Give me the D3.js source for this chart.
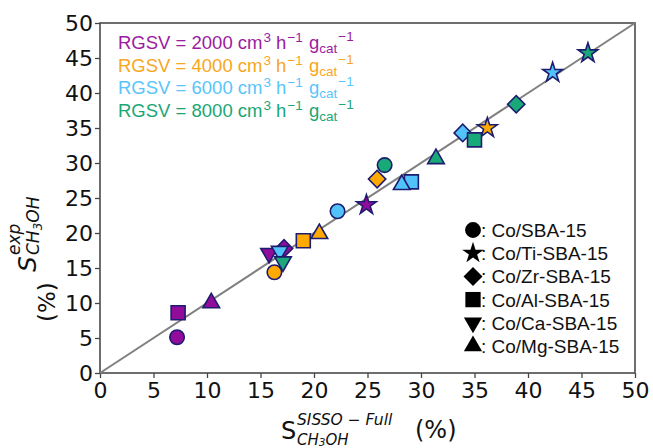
<!DOCTYPE html>
<html>
<head>
<meta charset="utf-8">
<script src="https://cdn.jsdelivr.net/npm/d3@7"></script>
<style>
  body { margin: 0; background: #fff; }
  svg { display: block; }
</style>
</head>
<body>
<script>
// RGSV series (cm3 h-1 gcat-1)
const rgsv = [2000, 4000, 6000, 8000];
const catalysts = ["Co/SBA-15", "Co/Ti-SBA-15", "Co/Zr-SBA-15", "Co/Al-SBA-15", "Co/Ca-SBA-15", "Co/Mg-SBA-15"];
const ticks = [0, 5, 10, 15, 20, 25, 30, 35, 40, 45, 50];

// one entry per point: catalyst index, rgsv index, predicted (SISSO-Full), experimental
const pCat  = [0, 0, 0, 0,   1, 1, 1, 1,   2, 2, 2, 2,   3, 3, 3, 3,   4, 4, 4,   5, 5, 5, 5];
const pRgsv = [0, 1, 2, 3,   0, 1, 2, 3,   0, 1, 2, 3,   0, 1, 2, 3,   0, 2, 3,   0, 1, 2, 3];
const pSisso = [7.2, 16.3, 22.2, 26.6,  24.9, 36.2, 42.3, 45.6,  17.2, 25.9, 33.9, 38.9,  7.3, 19.0, 29.1, 35.0,  15.8, 16.8, 17.1,  10.4, 20.5, 28.2, 31.4];
const pExp   = [5.1, 14.4, 23.1, 29.7,  24.0, 35.0, 42.9, 45.7,  17.8, 27.7, 34.3, 38.4,  8.6, 18.9, 27.3, 33.3,  17.1, 17.4, 15.9,  10.0, 19.9, 26.9, 30.6];

const colors = ["#920c9b", "#ffaa00", "#52c3f8", "#19a877"];
const textColors = ["#9b1b9f", "#f8a61c", "#58c5fa", "#1aa675"];
const edge = "#1c1c70";

const W = 653, H = 448;
const margin = {left: 100, top: 23, right: 18, bottom: 75};

const svg = d3.select("body").append("svg")
  .attr("width", W).attr("height", H);

const x = d3.scaleLinear().domain([0, 50]).range([margin.left, W - margin.right]);
const y = d3.scaleLinear().domain([0, 50]).range([H - margin.bottom, margin.top]);

// axes
const xAxis = svg.append("g")
  .attr("transform", `translate(0,${y(0)})`)
  .call(d3.axisBottom(x).tickValues(ticks).tickSize(5).tickPadding(4).tickFormat(d3.format("d")));
const yAxis = svg.append("g")
  .attr("transform", `translate(${x(0)},0)`)
  .call(d3.axisLeft(y).tickValues(ticks).tickSize(5).tickPadding(2).tickFormat(d3.format("d")));
[xAxis, yAxis].forEach(a => {
  a.select(".domain").remove();
  a.selectAll(".tick line").attr("stroke", "#444").attr("stroke-width", 1.3);
  a.selectAll(".tick text")
    .style("font-family", "DejaVu Sans")
    .style("font-size", "22px")
    .attr("fill", "#111");
});
yAxis.selectAll(".tick text").attr("dy", "0.36em");

// frame
svg.append("rect")
  .attr("x", x(0)).attr("y", y(50))
  .attr("width", x(50) - x(0)).attr("height", y(0) - y(50))
  .attr("fill", "none").attr("stroke", "#4a4a4a").attr("stroke-width", 1.6);

// parity line
svg.append("line")
  .attr("x1", x(0)).attr("y1", y(0)).attr("x2", x(50)).attr("y2", y(50))
  .attr("stroke", "#808080").attr("stroke-width", 2);

// marker shapes per catalyst
const shapes = [
  {type: d3.symbolCircle, size: 165, rot: 0},
  {type: d3.symbolStar, size: 120, rot: 0},
  {type: d3.symbolSquare, size: 150, rot: 45},
  {type: d3.symbolSquare, size: 195, rot: 0},
  {type: d3.symbolTriangle, size: 120, rot: 180},
  {type: d3.symbolTriangle, size: 120, rot: 0}
];
const sym = (c, k) => d3.symbol().type(shapes[c].type).size(shapes[c].size * (k || 1))();

const points = pSisso.map((v, i) => ({sx: v, ex: pExp[i], c: pCat[i], r: pRgsv[i]}));

svg.append("g").selectAll("path")
  .data(points)
  .join("path")
  .attr("d", d => sym(d.c))
  .attr("transform", d => `translate(${x(d.sx)},${y(d.ex)}) rotate(${shapes[d.c].rot})`)
  .attr("fill", d => colors[d.r])
  .attr("stroke", edge)
  .attr("stroke-width", 1.6)
  .attr("stroke-linejoin", "miter");

// RGSV legend
const rg = svg.append("g").style("font-family", "Liberation Sans, Arial, sans-serif");
rgsv.forEach((v, i) => {
  const t = rg.append("text")
    .attr("x", 118).attr("y", 49 + i * 22.5)
    .attr("fill", textColors[i])
    .style("font-size", "18.5px");
  t.append("tspan").text(`RGSV = ${v} cm`);
  t.append("tspan").attr("dy", -7).attr("dx", 1).style("font-size", "13.5px").text("3");
  t.append("tspan").attr("dy", 7).text(" h");
  t.append("tspan").attr("dy", -7).attr("dx", 1).style("font-size", "13.5px").text("\u22121");
  t.append("tspan").attr("dy", 7).attr("dx", 1).text(" g");
  t.append("tspan").attr("dy", 4).style("font-size", "13.5px").text("cat");
  t.append("tspan").attr("dy", -12).attr("dx", 1).style("font-size", "13.5px").text("\u22121");
});

// catalyst legend
const cl = svg.append("g").style("font-family", "Liberation Sans, Arial, sans-serif");
catalysts.forEach((name, i) => {
  const cy = 230 + i * 23.2;
  cl.append("path")
    .attr("d", sym(i, 1.2))
    .attr("transform", `translate(473,${cy}) rotate(${shapes[i].rot})`)
    .attr("fill", "#000");
  cl.append("text")
    .attr("x", 481).attr("y", cy + 7)
    .style("font-size", "19px")
    .attr("fill", "#111")
    .text(": " + name);
});

// x label
const xl = svg.append("g").style("font-family", "DejaVu Sans").attr("fill", "#111");
xl.append("text").attr("x", 281).attr("y", 439).style("font-size", "24px").text("S");
xl.append("text").attr("x", 297).attr("y", 425).style("font-size", "15.5px").style("font-style", "italic")
  .text("SISSO \u2212 Full");
const xs = xl.append("text").attr("x", 297).attr("y", 444.5).style("font-size", "15px").style("font-style", "italic");
xs.append("tspan").text("CH");
xs.append("tspan").attr("dy", 1.5).style("font-size", "10.5px").text("3");
xs.append("tspan").attr("dy", -1.5).text("OH");
xl.append("text").attr("x", 415).attr("y", 438).style("font-size", "24px").text("(%)");

// y label
const yl = svg.append("g").style("font-family", "DejaVu Sans").attr("fill", "#111")
  .attr("transform", "translate(36,272) rotate(-90)");
yl.append("text").attr("x", 0).attr("y", 0).style("font-size", "25px").style("font-style", "italic").text("S");
yl.append("text").attr("x", 17).attr("y", -16).style("font-size", "17px").style("font-style", "italic").text("exp");
const ys = yl.append("text").attr("x", 17).attr("y", 3).style("font-size", "17px").style("font-style", "italic");
ys.append("tspan").text("CH");
ys.append("tspan").attr("dy", 3).style("font-size", "12px").text("3");
ys.append("tspan").attr("dy", -3).text("OH");
svg.append("text")
  .attr("transform", "translate(55,322) rotate(-90)")
  .style("font-family", "DejaVu Sans").style("font-size", "23px").attr("fill", "#111")
  .text("(%)");
</script>
</body>
</html>
